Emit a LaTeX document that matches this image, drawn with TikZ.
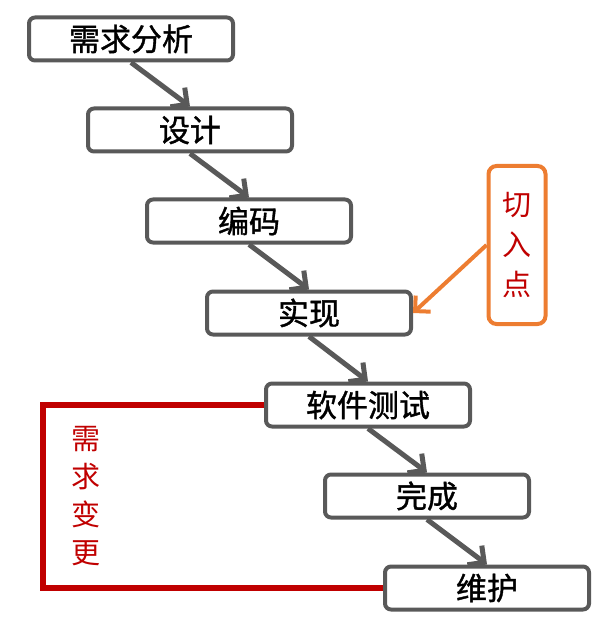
\documentclass[tikz,border=0pt]{standalone}
\usepackage{fontspec}
\newfontfamily\cjk{Noto Sans CJK SC}
\newfontfamily\cjkbold[FakeBold=1.2]{Noto Sans CJK SC}
\usetikzlibrary{arrows.meta}
\definecolor{mygray}{RGB}{89, 89, 89}
\definecolor{myorange}{RGB}{237, 125, 49}
\definecolor{myred}{RGB}{192, 0, 0}

\begin{document}
\begin{tikzpicture}[x=1pt,y=-1pt]

\tikzstyle{stage_block} = [draw=mygray, line width=4, rounded corners=6, minimum width=204,
minimum height=43, inner sep=0, font=\cjkbold\fontsize{31}{31}\selectfont]
\tikzstyle{cut_block} = [draw=myorange, line width=4, rounded corners=8, minimum width=57,
minimum height=158, inner sep=0, align=center, text=myred, font=\cjk\fontsize{29}{40}\selectfont]
\tikzstyle{red_text} = [inner sep=0, align=center, text=myred, font=\cjk\fontsize{29}{38}\selectfont]
\tikzstyle{gray_arrow} = [draw=mygray, line width=5, -{Straight Barb[length=12pt,width=24pt]}]
\tikzstyle{orange_arrow} = [draw=myorange, line width=4, -{Straight Barb[length=11pt,width=22pt]}]
\tikzstyle{change_line} = [draw=myred, line width=6]

\useasboundingbox (0,0) rectangle (598,620);

\node [stage_block] (analysis) at (131,39) {需求分析};
\node [stage_block] (design) at (190,130) {设计};
\node [stage_block] (coding) at (249,221) {编码};
\node [stage_block] (impl) at (309,313) {实现};
\node [stage_block] (test) at (368,405) {软件测试};
\node [stage_block] (done) at (427,496) {完成};
\node [stage_block] (maint) at (487,588) {维护};

\node [cut_block] (cut) at (517,245) {切\\入\\点};
\node [red_text] (change) at (86,496) {需\\求\\变\\更};

\draw [gray_arrow] (analysis.south) -- (design.north);
\draw [gray_arrow] (design.south) -- (coding.north);
\draw [gray_arrow] (coding.south) -- (impl.north);
\draw [gray_arrow] (impl.south) -- (test.north);
\draw [gray_arrow] (test.south) -- (done.north);
\draw [gray_arrow] (done.south) -- (maint.north);

\draw [orange_arrow] (cut.west) -- (impl.east);

\coordinate (corner) at (43,405);
\draw [change_line] (test.west) -- (corner) |- (maint.west);

\end{tikzpicture}
\end{document}
